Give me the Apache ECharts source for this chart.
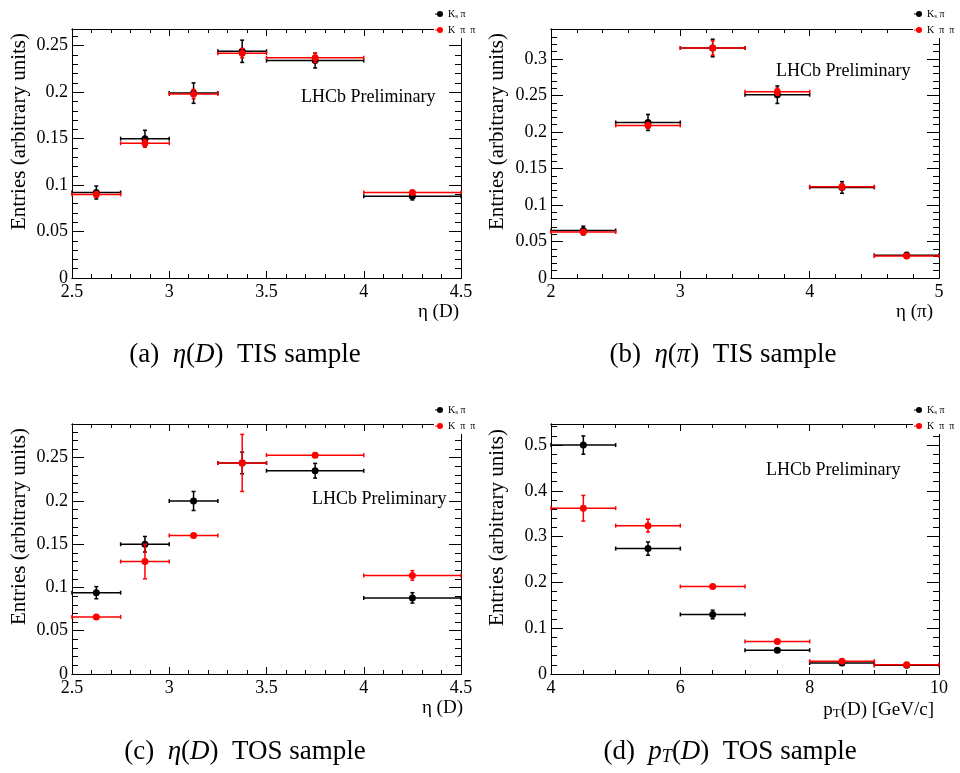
<!DOCTYPE html>
<html><head><meta charset="utf-8">
<script src="https://cdn.jsdelivr.net/npm/echarts@6/dist/echarts.min.js"></script>
<style>html,body{margin:0;padding:0;background:#fff}#c{width:960px;height:773px}</style>
</head><body><div id="c"></div>
<script>
// ---------------- data ----------------
const binsEtaD  = [[2.5,2.75],[2.75,3],[3,3.25],[3.25,3.5],[3.5,4],[4,4.5]];
const binsEtaPi = [[2,2.5],[2.5,3],[3,3.5],[3.5,4],[4,4.5],[4.5,5]];
const binsPt    = [[4,5],[5,6],[6,7],[7,8],[8,9],[9,10]];

// (a) eta(D) TIS
const tisEtaD_kspi     = [0.092, 0.150, 0.199, 0.244, 0.234, 0.088];
const tisEtaD_kspiErr  = [0.007, 0.009, 0.011, 0.012, 0.008, 0.004];
const tisEtaD_kpipi    = [0.090, 0.145, 0.198, 0.242, 0.237, 0.092];
const tisEtaD_kpipiErr = [0.003, 0.004, 0.005, 0.005, 0.005, 0.002];
// (b) eta(pi) TIS
const tisEtaPi_kspi     = [0.065, 0.213, 0.315, 0.251, 0.124, 0.031];
const tisEtaPi_kspiErr  = [0.006, 0.011, 0.012, 0.012, 0.008, 0.004];
const tisEtaPi_kpipi    = [0.063, 0.209, 0.315, 0.255, 0.125, 0.030];
const tisEtaPi_kpipiErr = [0.003, 0.004, 0.010, 0.005, 0.004, 0.002];
// (c) eta(D) TOS
const tosEtaD_kspi     = [0.094, 0.150, 0.200, 0.244, 0.235, 0.088];
const tosEtaD_kspiErr  = [0.007, 0.009, 0.011, 0.0125, 0.0085, 0.006];
const tosEtaD_kpipi    = [0.066, 0.130, 0.160, 0.244, 0.253, 0.114];
const tosEtaD_kpipiErr = [0.0015, 0.020, 0.0015, 0.033, 0.0025, 0.0055];
// (d) pT(D) TOS
const tosPt_kspi     = [0.500, 0.274, 0.130, 0.052, 0.024, 0.019];
const tosPt_kspiErr  = [0.020, 0.0145, 0.0095, 0.003, 0.002, 0.001];
const tosPt_kpipi    = [0.362, 0.324, 0.191, 0.071, 0.028, 0.020];
const tosPt_kpipiErr = [0.028, 0.014, 0.003, 0.003, 0.002, 0.001];

const seriesNames = ['Ks π', 'K π π'];
const yTitle = 'Entries (arbitrary units)';
const watermark = 'LHCb Preliminary';

// ---------------- layout / style ----------------
const FONT = '"Liberation Serif", "Times New Roman", serif';
const panels = [
  { grid:{left:72, top:29, width:389, height:249},
    bins:binsEtaD, ks:tisEtaD_kspi, ksE:tisEtaD_kspiErr, kp:tisEtaD_kpipi, kpE:tisEtaD_kpipiErr,
    x:{min:2.5, max:4.5, major:0.5, minor:0.1}, y:{max:0.268, major:0.05, minor:0.01},
    xTitle:'{n|η (D)}', xTitlePos:[459,312], yTitlePos:[19,33], wmPos:[301,97],
    legendPos:[434,6], caption:'{n|(a)  }{i|η}{n|(}{i|D}{n|)  TIS sample}', capPos:[245,355] },
  { grid:{left:551, top:29, width:388, height:249},
    bins:binsEtaPi, ks:tisEtaPi_kspi, ksE:tisEtaPi_kspiErr, kp:tisEtaPi_kpipi, kpE:tisEtaPi_kpipiErr,
    x:{min:2, max:5, major:1, minor:0.2}, y:{max:0.341, major:0.05, minor:0.01},
    xTitle:'{n|η (π)}', xTitlePos:[933,312], yTitlePos:[497,33], wmPos:[776,71],
    legendPos:[913,6], caption:'{n|(b)  }{i|η}{n|(}{i|π}{n|)  TIS sample}', capPos:[723,355] },
  { grid:{left:72, top:424, width:389, height:250},
    bins:binsEtaD, ks:tosEtaD_kspi, ksE:tosEtaD_kspiErr, kp:tosEtaD_kpipi, kpE:tosEtaD_kpipiErr,
    x:{min:2.5, max:4.5, major:0.5, minor:0.1}, y:{max:0.289, major:0.05, minor:0.01},
    xTitle:'{n|η (D)}', xTitlePos:[463,708], yTitlePos:[19,428], wmPos:[312,499],
    legendPos:[434,402], caption:'{n|(c)  }{i|η}{n|(}{i|D}{n|)  TOS sample}', capPos:[245,752] },
  { grid:{left:551, top:424, width:388, height:250},
    bins:binsPt, ks:tosPt_kspi, ksE:tosPt_kspiErr, kp:tosPt_kpipi, kpE:tosPt_kpipiErr,
    x:{min:4, max:10, major:2, minor:0.5}, y:{max:0.546, major:0.1, minor:0.02},
    xTitle:'{n|p}{sub|T}{n|(D) [GeV/c]}', xTitlePos:[934,710], yTitlePos:[497,429], wmPos:[766,470],
    legendPos:[913,402], caption:'{n|(d)  }{i|p}{isub|T}{n|(}{i|D}{n|)  TOS sample}', capPos:[730,752] }
];

const grids = [], xAxes = [], yAxes = [], series = [], legends = [], graphics = [];
const axisLineStyle = {color:'#000', width:1};
const tickLbl = {fontFamily:FONT, fontSize:18, color:'#000'};

function rowsOf(bins, vals, errs){
  return bins.map((b,k) => [(b[0]+b[1])/2, vals[k], b[0], b[1], errs[k]]);
}
function renderErr(color){
  return function(params, api){
    const x = api.value(0), y = api.value(1), lo = api.value(2), hi = api.value(3), e = api.value(4);
    const pL = api.coord([lo, y]), pR = api.coord([hi, y]), pC = api.coord([x, y]);
    const pT = api.coord([x, y + e]), pB = api.coord([x, y - e]);
    const c = 2, st = {stroke:color, lineWidth:1.5};
    return {type:'group', children:[
      {type:'line', shape:{x1:pL[0], y1:pL[1], x2:pR[0], y2:pR[1]}, style:st},
      {type:'line', shape:{x1:pL[0], y1:pL[1]-c, x2:pL[0], y2:pL[1]+c}, style:st},
      {type:'line', shape:{x1:pR[0], y1:pR[1]-c, x2:pR[0], y2:pR[1]+c}, style:st},
      {type:'line', shape:{x1:pT[0], y1:pT[1], x2:pB[0], y2:pB[1]}, style:st},
      {type:'line', shape:{x1:pT[0]-c, y1:pT[1], x2:pT[0]+c, y2:pT[1]}, style:st},
      {type:'line', shape:{x1:pB[0]-c, y1:pB[1], x2:pB[0]+c, y2:pB[1]}, style:st},
      {type:'circle', shape:{cx:pC[0], cy:pC[1], r:3.5}, style:{fill:color}}
    ]};
  };
}

panels.forEach((p, i) => {
  grids.push(p.grid);
  const xb = {gridIndex:i, type:'value', min:p.x.min, max:p.x.max, splitLine:{show:false},
              axisLine:{show:true, onZero:false, lineStyle:axisLineStyle}};
  xAxes.push(
    {...xb, position:'bottom', interval:p.x.major, axisTick:{inside:true, length:7, lineStyle:axisLineStyle},
      axisLabel:{...tickLbl, margin:5}},
    {...xb, position:'bottom', interval:p.x.minor, axisTick:{inside:true, length:4, lineStyle:axisLineStyle}, axisLabel:{show:false}},
    {...xb, position:'top', interval:p.x.major, axisTick:{inside:true, length:7, lineStyle:axisLineStyle}, axisLabel:{show:false}},
    {...xb, position:'top', interval:p.x.minor, axisTick:{inside:true, length:4, lineStyle:axisLineStyle}, axisLabel:{show:false}}
  );
  const yb = {gridIndex:i, type:'value', min:0, max:p.y.max, splitLine:{show:false},
              axisLine:{show:true, onZero:false, lineStyle:axisLineStyle}};
  yAxes.push(
    {...yb, position:'left', interval:p.y.major, axisTick:{inside:true, length:12, lineStyle:axisLineStyle},
      axisLabel:{...tickLbl, margin:4, showMaxLabel:false}},
    {...yb, position:'left', interval:p.y.minor, axisTick:{inside:true, length:6, lineStyle:axisLineStyle}, axisLabel:{show:false}},
    {...yb, position:'right', interval:p.y.major, axisTick:{inside:true, length:12, lineStyle:axisLineStyle}, axisLabel:{show:false}},
    {...yb, position:'right', interval:p.y.minor, axisTick:{inside:true, length:6, lineStyle:axisLineStyle}, axisLabel:{show:false}}
  );
  [[seriesNames[0], p.ks, p.ksE, '#000000'], [seriesNames[1], p.kp, p.kpE, '#ff0000']].forEach(s => {
    series.push({
      type:'custom', name:s[0], xAxisIndex:4*i, yAxisIndex:4*i,
      data:rowsOf(p.bins, s[1], s[2]), encode:{x:0, y:1},
      itemStyle:{color:s[3]}, renderItem:renderErr(s[3]), clip:false, z:3
    });
  });
  legends.push({
    data:seriesNames, orient:'vertical', left:p.legendPos[0], top:p.legendPos[1],
    itemWidth:8, itemHeight:6, itemGap:4, padding:[2,6,2,1], backgroundColor:'#fff',
    icon:'path://M0,2.6 L8,2.6 L8,3.4 L0,3.4 Z M5,0 A3,3 0 1,1 4.99,0 Z',
    selectedMode:false, z:10,
    formatter: n => n === seriesNames[0] ? '{t|K}{s|s}{t| π}' : '{t|K  π  π}',
    textStyle:{fontFamily:FONT, fontSize:10, color:'#000', lineHeight:12,
      rich:{t:{fontFamily:FONT, fontSize:10, lineHeight:12, color:'#000'},
            s:{fontFamily:FONT, fontSize:7, lineHeight:12, color:'#000', verticalAlign:'bottom', padding:[3,0,0,0]}}}
  });
  // texts
  graphics.push(
    {type:'text', x:p.yTitlePos[0], y:p.yTitlePos[1], rotation:Math.PI/2,
      style:{text:yTitle, fontFamily:FONT, fontSize:21, fill:'#000', align:'right', verticalAlign:'middle'}},
    {type:'text', x:p.xTitlePos[0], y:p.xTitlePos[1],
      style:{text:p.xTitle, align:'right', verticalAlign:'middle',
        rich:{n:{fontFamily:FONT, fontSize:19, fill:'#000'},
              sub:{fontFamily:FONT, fontSize:13, fill:'#000', verticalAlign:'bottom', padding:[8,0,0,0]}}}},
    {type:'text', x:p.wmPos[0], y:p.wmPos[1],
      style:{text:watermark, fontFamily:FONT, fontSize:18, fill:'#000', align:'left', verticalAlign:'middle'}},
    {type:'text', x:p.capPos[0], y:p.capPos[1],
      style:{text:p.caption, align:'center', verticalAlign:'middle',
        rich:{n:{fontFamily:FONT, fontSize:27, fill:'#000'},
              i:{fontFamily:FONT, fontSize:27, fontStyle:'italic', fill:'#000'},
              isub:{fontFamily:FONT, fontSize:18, fontStyle:'italic', fill:'#000', verticalAlign:'bottom', padding:[11,0,0,0]}}}}
  );
});

const chart = echarts.init(document.getElementById('c'), null, {renderer:'canvas'});
chart.setOption({
  animation:false, backgroundColor:'#fff',
  grid:grids, xAxis:xAxes, yAxis:yAxes, series:series, legend:legends,
  graphic:{elements:graphics}
});
</script></body></html>
